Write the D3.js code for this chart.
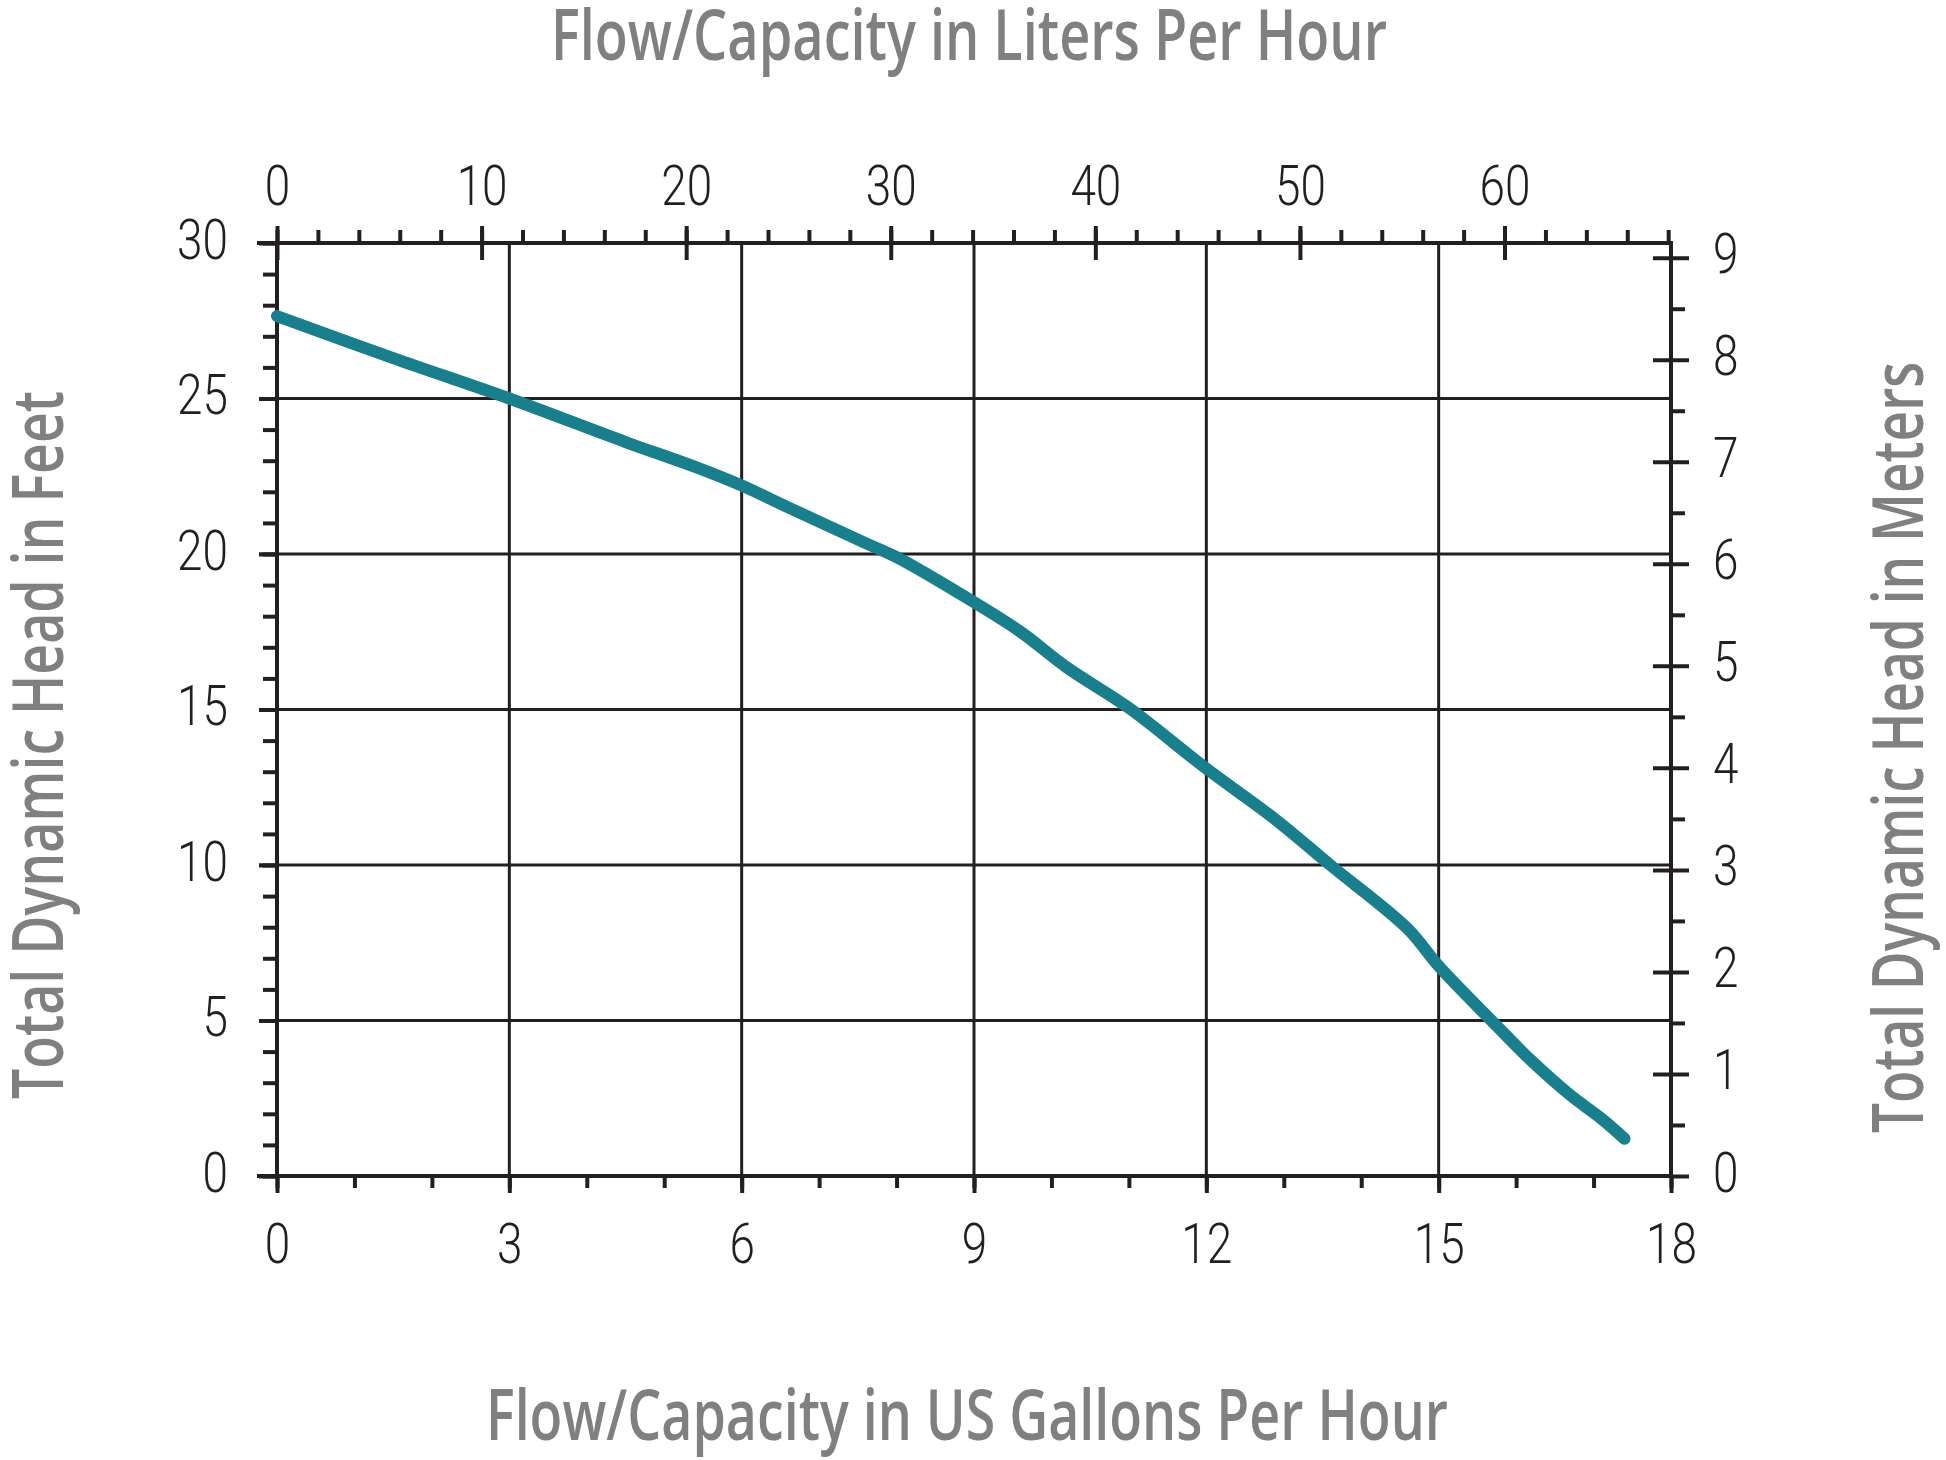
<!DOCTYPE html>
<html>
<head>
<meta charset="utf-8">
<script src="https://cdn.jsdelivr.net/npm/d3@7"></script>
<style>
  body { margin: 0; background: white; }
</style>
</head>
<body>
<script>
// curve: flow in US gallons per hour vs head in feet
const flowGph = [0, 1.5, 3, 4.5, 5.4, 6, 6.6, 7.6, 8, 9, 9.6, 10.2, 11, 12, 12.9, 13.6, 14.6, 15, 15.7, 16.2, 16.7, 17.1, 17.4];
const headFeet = [27.65, 26.3, 25.0, 23.6, 22.8, 22.2, 21.5, 20.35, 19.9, 18.45, 17.5, 16.35, 15.05, 13.1, 11.45, 10.0, 7.95, 6.75, 4.95, 3.7, 2.6, 1.85, 1.2];

// axis ticks
const galMinor = d3.range(0, 19, 1);
const galMajor = [0, 3, 6, 9, 12, 15, 18];
const feetMinor = d3.range(0, 31, 1);
const feetMajor = [0, 5, 10, 15, 20, 25, 30];
const literMinor = d3.range(0, 69, 2);
const literMajor = [0, 10, 20, 30, 40, 50, 60];
const meterMinor = d3.range(0.5, 9, 1);
const meterMajor = [0, 1, 2, 3, 4, 5, 6, 7, 8, 9];

const titleTop = "Flow/Capacity in Liters Per Hour";
const titleBottom = "Flow/Capacity in US Gallons Per Hour";
const titleLeft = "Total Dynamic Head in Feet";
const titleRight = "Total Dynamic Head in Meters";

const LITERS_PER_GAL = 3.78541;
const METERS_PER_FOOT = 0.3048;

const width = 1946, height = 1460;
const ink = "#231f20";
const grey = "#808080";
const teal = "#1a7f8c";
const tickFont = "Roboto, 'Liberation Sans', sans-serif";
const titleFont = "'Open Sans', 'Liberation Sans', sans-serif";
const squeeze = 0.82;

const svg = d3.select("body").append("svg")
    .attr("width", width).attr("height", height)
    .style("background", "white");

// scales
const x = d3.scaleLinear().domain([0, 18]).range([277, 1671]);
const y = d3.scaleLinear().domain([0, 30]).range([1176, 243]);
const xL = d3.scaleLinear().domain([0, 18 * LITERS_PER_GAL]).range(x.range());
const yM = d3.scaleLinear().domain([0, 30 * METERS_PER_FOOT]).range(y.range());

const [x0, x1] = x.range();
const [y0, y1] = y.range();

// grid
const grid = svg.append("g").attr("stroke", ink).attr("stroke-width", 3);
grid.selectAll("line.h").data(feetMajor.slice(1, -1)).join("line")
    .attr("class", "h")
    .attr("x1", x0 - 18).attr("x2", x1)
    .attr("y1", d => y(d)).attr("y2", d => y(d));
grid.selectAll("line.v").data(galMajor.slice(1, -1)).join("line")
    .attr("class", "v")
    .attr("x1", d => x(d)).attr("x2", d => x(d))
    .attr("y1", y0).attr("y2", y1);

function plainAxis(g) {
    g.select(".domain").remove();
    g.selectAll(".tick line").attr("stroke", ink).attr("stroke-width", 4);
}

function styleText(g) {
    g.selectAll("text")
        .attr("font-family", tickFont)
        .attr("font-weight", 300)
        .attr("font-size", 56)
        .attr("fill", ink)
        .attr("dy", null);
}

// bottom axis (gallons)
svg.append("g").attr("transform", `translate(0,${y0})`)
    .call(d3.axisBottom(x).tickValues(galMinor).tickSize(12).tickFormat(""))
    .call(plainAxis);
svg.append("g").attr("transform", `translate(0,${y0})`)
    .call(d3.axisBottom(x).tickValues(galMajor).tickSize(17).tickFormat(d3.format("d")))
    .call(plainAxis)
    .call(styleText)
    .call(g => g.selectAll("text").attr("y", 87).attr("transform", `scale(${squeeze},1)`));

// top axis (liters)
svg.append("g").attr("transform", `translate(0,${y1})`)
    .call(d3.axisTop(xL).tickValues(literMinor).tickSize(13).tickFormat(""))
    .call(plainAxis);
svg.append("g").attr("transform", `translate(0,${y1})`)
    .call(d3.axisTop(xL).tickValues(literMajor).tickSize(17).tickFormat(d3.format("d")))
    .call(plainAxis)
    .call(g => g.selectAll(".tick line").attr("y2", 17).attr("y1", -17))
    .call(styleText)
    .call(g => g.selectAll("text").attr("y", -38).attr("transform", `scale(${squeeze},1)`));

// left axis (feet)
svg.append("g").attr("transform", `translate(${x0},0)`)
    .call(d3.axisLeft(y).tickValues(feetMinor).tickSize(14).tickFormat(""))
    .call(plainAxis);
svg.append("g").attr("transform", `translate(${x0},0)`)
    .call(d3.axisLeft(y).tickValues(feetMajor).tickSize(18).tickFormat(d3.format("d")))
    .call(plainAxis)
    .call(styleText)
    .call(g => g.selectAll("text")
        .attr("x", -49 / squeeze).attr("y", 15)
        .attr("transform", `scale(${squeeze},1)`));

// right axis (meters)
svg.append("g").attr("transform", `translate(${x1},0)`)
    .call(d3.axisRight(yM).tickValues(meterMinor).tickSize(14).tickFormat(""))
    .call(plainAxis);
svg.append("g").attr("transform", `translate(${x1},0)`)
    .call(d3.axisRight(yM).tickValues(meterMajor).tickSize(18).tickFormat(d3.format("d")))
    .call(plainAxis)
    .call(g => g.selectAll(".tick line").attr("x1", d => d === 0 ? 0 : -18))
    .call(styleText)
    .call(g => g.selectAll("text")
        .attr("x", 42 / squeeze).attr("y", 15)
        .attr("transform", `scale(${squeeze},1)`));

// frame lines
const frame = svg.append("g").attr("stroke", ink).attr("stroke-width", 4).attr("stroke-linecap", "square");
frame.append("line").attr("x1", x0 - 18).attr("x2", x1).attr("y1", y1).attr("y2", y1);
frame.append("line").attr("x1", x0 - 18).attr("x2", x1).attr("y1", y0).attr("y2", y0);
frame.append("line").attr("x1", x0).attr("x2", x0).attr("y1", y1).attr("y2", y0);
frame.append("line").attr("x1", x1).attr("x2", x1).attr("y1", y1).attr("y2", y0);

// pump curve
const points = flowGph.map((g, i) => [g, headFeet[i]]);
const line = d3.line()
    .x(d => x(d[0]))
    .y(d => y(d[1]))
    .curve(d3.curveCatmullRom.alpha(0.5));
svg.append("path")
    .datum(points)
    .attr("d", line)
    .attr("fill", "none")
    .attr("stroke", teal)
    .attr("stroke-width", 12)
    .attr("stroke-linecap", "round")
    .attr("stroke-linejoin", "round");

// axis titles
function title(text, transform, len) {
    svg.append("text")
        .attr("transform", transform)
        .attr("font-family", titleFont)
        .attr("font-weight", 600)
        .attr("font-size", 71)
        .attr("fill", grey)
        .attr("textLength", len)
        .attr("lengthAdjust", "spacingAndGlyphs")
        .text(text);
}
title(titleTop, "translate(551,60)", 836);
title(titleBottom, "translate(486,1440)", 962);
title(titleLeft, "translate(63,1099) rotate(-90)", 708);
title(titleRight, "translate(1923,1133) rotate(-90)", 771);
</script>
</body>
</html>
